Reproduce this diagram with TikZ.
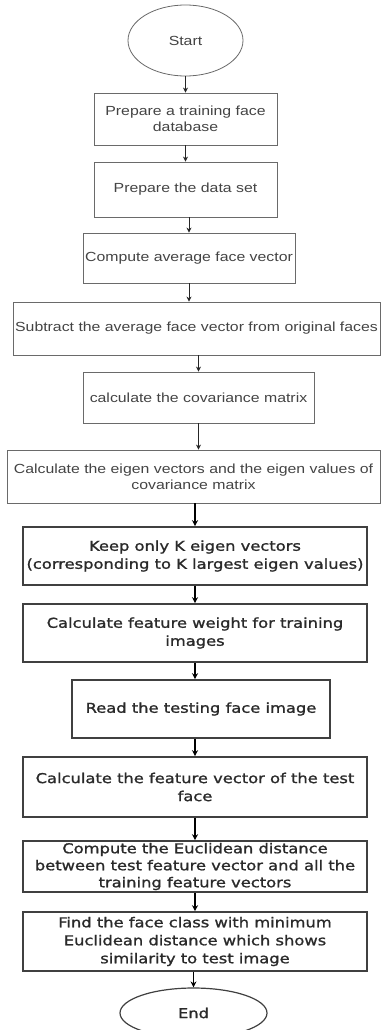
\documentclass[tikz,border=0pt]{standalone}
\usepackage{fontspec}
\usetikzlibrary{shapes.geometric,arrows.meta}
\newfontfamily\topfont[FakeStretch=1.2]{Liberation Sans}
\newfontfamily\botfont[FakeStretch=1.2,FakeBold=1.2]{DejaVu Sans}
\definecolor{lgray}{HTML}{6A6A6A}
\definecolor{ltext}{HTML}{444444}
\definecolor{dgray}{HTML}{404040}
\definecolor{dtext}{HTML}{2A2A2A}
\tikzset{
  topbox/.style={draw=lgray, line width=0.8pt, rectangle, align=center, inner sep=0pt,
    text=ltext, font=\topfont\fontsize{13.2}{16}\selectfont},
  botbox/.style={draw=dgray, line width=1.6pt, rectangle, align=center, inner sep=0pt,
    text=dtext, font=\botfont\fontsize{13.6}{18}\selectfont},
  topell/.style={draw=lgray, line width=0.8pt, ellipse, inner sep=0pt,
    text=ltext, font=\topfont\fontsize{13.2}{16}\selectfont},
  botell/.style={draw=dgray, line width=1.2pt, ellipse, inner sep=0pt,
    text=dtext, font=\botfont\fontsize{13.6}{18}\selectfont},
  arr/.style={draw=black!85, line width=0.8pt, -{Stealth[length=5pt,width=5pt]}},
  arrb/.style={draw=black, line width=1.1pt, -{Stealth[length=6pt,width=6pt]}}
}
\begin{document}
\begin{tikzpicture}[x=1pt,y=-1pt]
\useasboundingbox[fill=white] (0,0) rectangle (381,1030);
\node[topell, minimum width=115pt, minimum height=71pt] (start) at (185.5,40.5) {Start};
\node[topbox, minimum width=183pt, minimum height=52pt] (b1) at (185.5,119) {Prepare a training face\\database};
\node[topbox, minimum width=183pt, minimum height=55pt] (b2) at (185.5,189.5) {Prepare the data set};
\node[topbox, minimum width=212pt, minimum height=50pt] (b3) at (189,258) {Compute average face vector};
\node[topbox, minimum width=367pt, minimum height=53pt] (b4) at (196.5,328.5) {Subtract the average face vector from original faces};
\node[topbox, minimum width=231pt, minimum height=51pt] (b5) at (198.5,397.5) {calculate the covariance matrix};
\node[topbox, minimum width=373pt, minimum height=53pt] (b6) at (193.5,476.5) {Calculate the eigen vectors and the eigen values of\\covariance matrix};
\node[botbox, minimum width=344pt, minimum height=58pt] (b7) at (195,556) {Keep only K eigen vectors\\(corresponding to K largest eigen values)};
\node[botbox, minimum width=344pt, minimum height=58pt] (b8) at (195,633) {Calculate feature weight for training\\images};
\node[botbox, minimum width=258pt, minimum height=58pt] (b9) at (201,709) {Read the testing face image};
\node[botbox, minimum width=344pt, minimum height=60pt] (b10) at (195,787) {Calculate the feature vector of the test\\face};
\node[botbox, minimum width=344pt, minimum height=51pt, font=\botfont\fontsize{13.6}{17}\selectfont] (b11) at (195,866.5) {Compute the Euclidean distance\\between test feature vector and all the\\training feature vectors};
\node[botbox, minimum width=344pt, minimum height=59pt] (b12) at (195,941.5) {Find the face class with minimum\\Euclidean distance which shows\\similarity to test image};
\node[botell, minimum width=147pt, minimum height=50pt] (end) at (193.5,1013) {End};

\draw[arr] (start.south) -- (b1.north);
\draw[arr] (b1.south) -- (b2.north);
\draw[arr] (b3.north |- b2.south) -- (b3.north);
\draw[arr] (b3.south) -- (b3.south |- b4.north);
\draw[arr] (b5.north |- b4.south) -- (b5.north);
\draw[arr] (b5.south) -- (b5.south |- b6.north);
\draw[arrb] (b7.north |- b6.south) -- (b7.north);
\draw[arrb] (b7.south) -- (b8.north);
\draw[arrb] (b8.south) -- (b8.south |- b9.north);
\draw[arrb] (b10.north |- b9.south) -- (b10.north);
\draw[arrb] (b10.south) -- (b11.north);
\draw[arrb] (b11.south) -- (b12.north);
\draw[arrb] (end.north |- b12.south) -- (end.north);
\end{tikzpicture}
\end{document}
